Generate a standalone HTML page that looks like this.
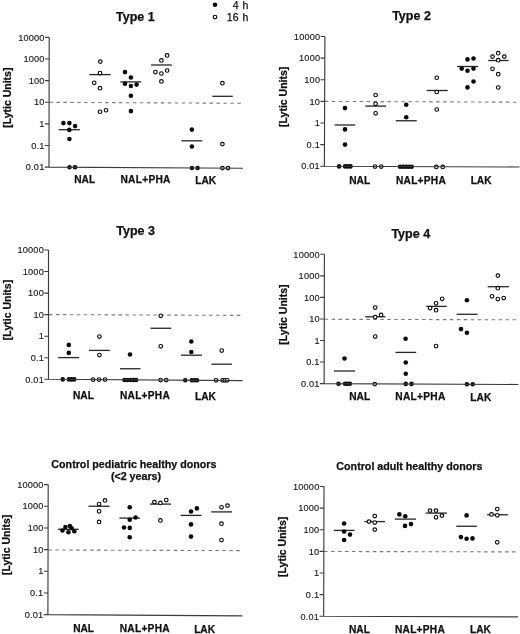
<!DOCTYPE html>
<html><head><meta charset="utf-8"><style>
html,body{margin:0;padding:0;background:#fff;}
body{width:520px;height:634px;overflow:hidden;}
svg{display:block;filter:blur(0.3px);}
text{font-family:"Liberation Sans", sans-serif;fill:#111;stroke:#111;stroke-width:0.25px;}
.tk{font-size:9.2px;text-anchor:end;letter-spacing:0.2px;fill:#1a1a1a;stroke:#1a1a1a;stroke-width:0.15px;}
.ti{font-size:12.5px;font-weight:bold;text-anchor:middle;}
.ti2{font-size:10.7px;font-weight:bold;text-anchor:middle;}
.xl{font-size:10.2px;font-weight:bold;text-anchor:middle;}
.yl{font-size:10.5px;font-weight:bold;text-anchor:middle;}
.xp{letter-spacing:0.25px;}
.lg{font-size:10.5px;text-anchor:end;word-spacing:1px;}
</style></head><body>
<svg width="520" height="634" viewBox="0 0 520 634">
<rect width="520" height="634" fill="#fff"/>
<circle cx="215" cy="4.8" r="2.3" fill="#0a0a0a"/>
<circle cx="215" cy="17" r="1.8" fill="#fff" stroke="#0a0a0a" stroke-width="1.15"/>
<text x="248.3" y="8.7" class="lg">4 h</text>
<text x="248.3" y="20.9" class="lg">16 h</text>
<line x1="49.45" y1="102.3" x2="241.5" y2="103.3" stroke="#7a7a7a" stroke-width="1.1" stroke-dasharray="3.5 3.46"/>
<text x="44.7" y="40.6" class="tk">10000</text>
<text x="44.67" y="62.22" class="tk">1000</text>
<text x="44.63" y="83.83" class="tk">100</text>
<text x="44.6" y="105.45" class="tk">10</text>
<text x="44.57" y="127.07" class="tk">1</text>
<text x="44.53" y="148.68" class="tk">0.1</text>
<text x="44.5" y="170.3" class="tk">0.01</text>
<line x1="58.6" y1="129.7" x2="79.9" y2="129.7" stroke="#262626" stroke-width="1.3"/>
<line x1="89.4" y1="74.6" x2="110.6" y2="74.6" stroke="#262626" stroke-width="1.3"/>
<line x1="120.3" y1="81.9" x2="141.2" y2="81.9" stroke="#262626" stroke-width="1.3"/>
<line x1="151.1" y1="65" x2="171.8" y2="65" stroke="#262626" stroke-width="1.3"/>
<line x1="181.4" y1="140.8" x2="202.3" y2="140.8" stroke="#262626" stroke-width="1.3"/>
<line x1="212.3" y1="96.3" x2="232.8" y2="96.3" stroke="#262626" stroke-width="1.3"/>
<circle cx="63.4" cy="123.1" r="2.3" fill="#0a0a0a"/>
<circle cx="69.4" cy="123.1" r="2.3" fill="#0a0a0a"/>
<circle cx="75.1" cy="126.1" r="2.3" fill="#0a0a0a"/>
<circle cx="69.3" cy="129.9" r="2.3" fill="#0a0a0a"/>
<circle cx="69.4" cy="139" r="2.3" fill="#0a0a0a"/>
<circle cx="69.5" cy="167.2" r="2.3" fill="#0a0a0a"/>
<circle cx="75" cy="167.2" r="2.3" fill="#0a0a0a"/>
<circle cx="125" cy="72.1" r="2.3" fill="#0a0a0a"/>
<circle cx="130.9" cy="77.5" r="2.3" fill="#0a0a0a"/>
<circle cx="125" cy="83.7" r="2.3" fill="#0a0a0a"/>
<circle cx="130.9" cy="86" r="2.3" fill="#0a0a0a"/>
<circle cx="136.6" cy="84.6" r="2.3" fill="#0a0a0a"/>
<circle cx="130.9" cy="95.8" r="2.3" fill="#0a0a0a"/>
<circle cx="130.9" cy="111.1" r="2.3" fill="#0a0a0a"/>
<circle cx="191.9" cy="129.6" r="2.3" fill="#0a0a0a"/>
<circle cx="191.9" cy="146.5" r="2.3" fill="#0a0a0a"/>
<circle cx="191.9" cy="168" r="2.3" fill="#0a0a0a"/>
<circle cx="197.6" cy="168" r="2.3" fill="#0a0a0a"/>
<circle cx="100.3" cy="61.6" r="1.8" fill="#fff" stroke="#0a0a0a" stroke-width="1.15"/>
<circle cx="100" cy="73.1" r="1.8" fill="#fff" stroke="#0a0a0a" stroke-width="1.15"/>
<circle cx="94.2" cy="82.8" r="1.8" fill="#fff" stroke="#0a0a0a" stroke-width="1.15"/>
<circle cx="100" cy="88.2" r="1.8" fill="#fff" stroke="#0a0a0a" stroke-width="1.15"/>
<circle cx="100" cy="111.75" r="1.8" fill="#fff" stroke="#0a0a0a" stroke-width="1.15"/>
<circle cx="106" cy="110.25" r="1.8" fill="#fff" stroke="#0a0a0a" stroke-width="1.15"/>
<circle cx="167.1" cy="55.4" r="1.8" fill="#fff" stroke="#0a0a0a" stroke-width="1.15"/>
<circle cx="161.4" cy="60.4" r="1.8" fill="#fff" stroke="#0a0a0a" stroke-width="1.15"/>
<circle cx="155.4" cy="72.1" r="1.8" fill="#fff" stroke="#0a0a0a" stroke-width="1.15"/>
<circle cx="161.4" cy="73.5" r="1.8" fill="#fff" stroke="#0a0a0a" stroke-width="1.15"/>
<circle cx="167.1" cy="70.5" r="1.8" fill="#fff" stroke="#0a0a0a" stroke-width="1.15"/>
<circle cx="161.4" cy="81.4" r="1.8" fill="#fff" stroke="#0a0a0a" stroke-width="1.15"/>
<circle cx="222.4" cy="83.2" r="1.8" fill="#fff" stroke="#0a0a0a" stroke-width="1.15"/>
<circle cx="222.4" cy="144.1" r="1.8" fill="#fff" stroke="#0a0a0a" stroke-width="1.15"/>
<circle cx="222.4" cy="168.1" r="1.8" fill="#fff" stroke="#0a0a0a" stroke-width="1.15"/>
<circle cx="228" cy="168.1" r="1.8" fill="#fff" stroke="#0a0a0a" stroke-width="1.15"/>
<path d="M49.2 37.4L49 167.1L243 168.3" fill="none" stroke="#3c3c3c" stroke-width="1.15"/>
<path d="M45 37.4H49.2M44.97 59.02H49.17M44.93 80.63H49.13M44.9 102.25H49.1M44.87 123.87H49.07M44.83 145.48H49.03M44.8 167.1H49" stroke="#3c3c3c" stroke-width="1.1"/>
<text x="135.4" y="21.1" class="ti">Type 1</text>
<text transform="translate(11.2 97.7) rotate(-90)" x="0" y="0" class="yl">[Lytic Units]</text>
<text x="84.7" y="182.9" class="xl">NAL</text>
<text x="145.6" y="182.9" class="xl xp">NAL+PHA</text>
<text x="205.75" y="183.6" class="xl">LAK</text>
<line x1="324.85" y1="101.4" x2="517" y2="102.2" stroke="#7a7a7a" stroke-width="1.1" stroke-dasharray="3.5 3.46"/>
<text x="320.4" y="39.7" class="tk">10000</text>
<text x="320.32" y="61.32" class="tk">1000</text>
<text x="320.23" y="82.93" class="tk">100</text>
<text x="320.15" y="104.55" class="tk">10</text>
<text x="320.07" y="126.17" class="tk">1</text>
<text x="319.98" y="147.78" class="tk">0.1</text>
<text x="319.9" y="169.4" class="tk">0.01</text>
<line x1="334.6" y1="125" x2="355.3" y2="125" stroke="#262626" stroke-width="1.3"/>
<line x1="365.3" y1="106.1" x2="386" y2="106.1" stroke="#262626" stroke-width="1.3"/>
<line x1="395.75" y1="120.75" x2="416.75" y2="120.75" stroke="#262626" stroke-width="1.3"/>
<line x1="426.75" y1="90.5" x2="447.75" y2="90.5" stroke="#262626" stroke-width="1.3"/>
<line x1="457.1" y1="66.5" x2="478" y2="66.5" stroke="#262626" stroke-width="1.3"/>
<line x1="488.2" y1="60.5" x2="508.6" y2="60.5" stroke="#262626" stroke-width="1.3"/>
<circle cx="345" cy="108.1" r="2.3" fill="#0a0a0a"/>
<circle cx="345" cy="129.4" r="2.3" fill="#0a0a0a"/>
<circle cx="345" cy="144.6" r="2.3" fill="#0a0a0a"/>
<circle cx="339.1" cy="166.4" r="2.3" fill="#0a0a0a"/>
<circle cx="345.1" cy="166.4" r="2.3" fill="#0a0a0a"/>
<circle cx="347.8" cy="166.4" r="2.3" fill="#0a0a0a"/>
<circle cx="350.5" cy="166.4" r="2.3" fill="#0a0a0a"/>
<circle cx="406.25" cy="104.75" r="2.3" fill="#0a0a0a"/>
<circle cx="406.25" cy="117.25" r="2.3" fill="#0a0a0a"/>
<circle cx="400.1" cy="166.8" r="2.3" fill="#0a0a0a"/>
<circle cx="403" cy="166.8" r="2.3" fill="#0a0a0a"/>
<circle cx="405.9" cy="166.8" r="2.3" fill="#0a0a0a"/>
<circle cx="408.8" cy="166.8" r="2.3" fill="#0a0a0a"/>
<circle cx="411.7" cy="166.8" r="2.3" fill="#0a0a0a"/>
<circle cx="467.5" cy="59.4" r="2.3" fill="#0a0a0a"/>
<circle cx="473.5" cy="58.5" r="2.3" fill="#0a0a0a"/>
<circle cx="461.7" cy="68.6" r="2.3" fill="#0a0a0a"/>
<circle cx="467.5" cy="70.8" r="2.3" fill="#0a0a0a"/>
<circle cx="473.5" cy="68.6" r="2.3" fill="#0a0a0a"/>
<circle cx="473.5" cy="81.5" r="2.3" fill="#0a0a0a"/>
<circle cx="467.5" cy="87.4" r="2.3" fill="#0a0a0a"/>
<circle cx="375.6" cy="95" r="1.8" fill="#fff" stroke="#0a0a0a" stroke-width="1.15"/>
<circle cx="375.6" cy="103.8" r="1.8" fill="#fff" stroke="#0a0a0a" stroke-width="1.15"/>
<circle cx="375.6" cy="113.3" r="1.8" fill="#fff" stroke="#0a0a0a" stroke-width="1.15"/>
<circle cx="375" cy="166.5" r="1.8" fill="#fff" stroke="#0a0a0a" stroke-width="1.15"/>
<circle cx="381.25" cy="166.5" r="1.8" fill="#fff" stroke="#0a0a0a" stroke-width="1.15"/>
<circle cx="436.75" cy="77.75" r="1.8" fill="#fff" stroke="#0a0a0a" stroke-width="1.15"/>
<circle cx="436.75" cy="92" r="1.8" fill="#fff" stroke="#0a0a0a" stroke-width="1.15"/>
<circle cx="436.75" cy="109.5" r="1.8" fill="#fff" stroke="#0a0a0a" stroke-width="1.15"/>
<circle cx="436.25" cy="166.9" r="1.8" fill="#fff" stroke="#0a0a0a" stroke-width="1.15"/>
<circle cx="442.75" cy="166.9" r="1.8" fill="#fff" stroke="#0a0a0a" stroke-width="1.15"/>
<circle cx="498.2" cy="53.2" r="1.8" fill="#fff" stroke="#0a0a0a" stroke-width="1.15"/>
<circle cx="492.5" cy="56.6" r="1.8" fill="#fff" stroke="#0a0a0a" stroke-width="1.15"/>
<circle cx="504.3" cy="56.6" r="1.8" fill="#fff" stroke="#0a0a0a" stroke-width="1.15"/>
<circle cx="498.2" cy="60.2" r="1.8" fill="#fff" stroke="#0a0a0a" stroke-width="1.15"/>
<circle cx="492.5" cy="68.8" r="1.8" fill="#fff" stroke="#0a0a0a" stroke-width="1.15"/>
<circle cx="498.2" cy="74.2" r="1.8" fill="#fff" stroke="#0a0a0a" stroke-width="1.15"/>
<circle cx="498.2" cy="87.5" r="1.8" fill="#fff" stroke="#0a0a0a" stroke-width="1.15"/>
<path d="M324.9 36.5L324.4 166.2L519.5 167" fill="none" stroke="#3c3c3c" stroke-width="1.15"/>
<path d="M320.7 36.5H324.9M320.62 58.12H324.82M320.53 79.73H324.73M320.45 101.35H324.65M320.37 122.97H324.57M320.28 144.58H324.48M320.2 166.2H324.4" stroke="#3c3c3c" stroke-width="1.1"/>
<text x="411.5" y="20" class="ti">Type 2</text>
<text transform="translate(287.2 96.8) rotate(-90)" x="0" y="0" class="yl">[Lytic Units]</text>
<text x="359.7" y="183.75" class="xl">NAL</text>
<text x="421" y="183.75" class="xl xp">NAL+PHA</text>
<text x="481.1" y="184.4" class="xl">LAK</text>
<line x1="48.95" y1="314.6" x2="241" y2="315.4" stroke="#7a7a7a" stroke-width="1.1" stroke-dasharray="3.5 3.46"/>
<text x="44" y="253.2" class="tk">10000</text>
<text x="44" y="274.75" class="tk">1000</text>
<text x="44" y="296.3" class="tk">100</text>
<text x="44" y="317.85" class="tk">10</text>
<text x="44" y="339.4" class="tk">1</text>
<text x="44" y="360.95" class="tk">0.1</text>
<text x="44" y="382.5" class="tk">0.01</text>
<line x1="58.2" y1="357.6" x2="79.2" y2="357.6" stroke="#262626" stroke-width="1.3"/>
<line x1="89" y1="350.4" x2="109.8" y2="350.4" stroke="#262626" stroke-width="1.3"/>
<line x1="120" y1="368.75" x2="140.5" y2="368.75" stroke="#262626" stroke-width="1.3"/>
<line x1="150.5" y1="328.25" x2="171.25" y2="328.25" stroke="#262626" stroke-width="1.3"/>
<line x1="181" y1="355.2" x2="201.9" y2="355.2" stroke="#262626" stroke-width="1.3"/>
<line x1="211.5" y1="364.2" x2="232" y2="364.2" stroke="#262626" stroke-width="1.3"/>
<circle cx="68.8" cy="344.9" r="2.3" fill="#0a0a0a"/>
<circle cx="68.8" cy="352.9" r="2.3" fill="#0a0a0a"/>
<circle cx="62.75" cy="379.4" r="2.3" fill="#0a0a0a"/>
<circle cx="68.9" cy="379.4" r="2.3" fill="#0a0a0a"/>
<circle cx="71.6" cy="379.4" r="2.3" fill="#0a0a0a"/>
<circle cx="74.25" cy="379.4" r="2.3" fill="#0a0a0a"/>
<circle cx="130" cy="354.5" r="2.3" fill="#0a0a0a"/>
<circle cx="124.5" cy="380" r="2.3" fill="#0a0a0a"/>
<circle cx="127.4" cy="380" r="2.3" fill="#0a0a0a"/>
<circle cx="130.3" cy="380" r="2.3" fill="#0a0a0a"/>
<circle cx="133.2" cy="380" r="2.3" fill="#0a0a0a"/>
<circle cx="136.1" cy="380" r="2.3" fill="#0a0a0a"/>
<circle cx="191.3" cy="341.5" r="2.3" fill="#0a0a0a"/>
<circle cx="191.3" cy="352" r="2.3" fill="#0a0a0a"/>
<circle cx="185.25" cy="380.25" r="2.3" fill="#0a0a0a"/>
<circle cx="191.75" cy="380.25" r="2.3" fill="#0a0a0a"/>
<circle cx="194.4" cy="380.25" r="2.3" fill="#0a0a0a"/>
<circle cx="197" cy="380.25" r="2.3" fill="#0a0a0a"/>
<circle cx="99.4" cy="336.5" r="1.8" fill="#fff" stroke="#0a0a0a" stroke-width="1.15"/>
<circle cx="99.4" cy="355" r="1.8" fill="#fff" stroke="#0a0a0a" stroke-width="1.15"/>
<circle cx="93.1" cy="379.5" r="1.8" fill="#fff" stroke="#0a0a0a" stroke-width="1.15"/>
<circle cx="99" cy="379.5" r="1.8" fill="#fff" stroke="#0a0a0a" stroke-width="1.15"/>
<circle cx="105" cy="379.5" r="1.8" fill="#fff" stroke="#0a0a0a" stroke-width="1.15"/>
<circle cx="160.75" cy="315.75" r="1.8" fill="#fff" stroke="#0a0a0a" stroke-width="1.15"/>
<circle cx="160.75" cy="346.25" r="1.8" fill="#fff" stroke="#0a0a0a" stroke-width="1.15"/>
<circle cx="160.6" cy="380" r="1.8" fill="#fff" stroke="#0a0a0a" stroke-width="1.15"/>
<circle cx="166.25" cy="380" r="1.8" fill="#fff" stroke="#0a0a0a" stroke-width="1.15"/>
<circle cx="221.7" cy="350.5" r="1.8" fill="#fff" stroke="#0a0a0a" stroke-width="1.15"/>
<circle cx="216" cy="380.3" r="1.8" fill="#fff" stroke="#0a0a0a" stroke-width="1.15"/>
<circle cx="222.6" cy="380.3" r="1.8" fill="#fff" stroke="#0a0a0a" stroke-width="1.15"/>
<circle cx="224.9" cy="380.3" r="1.8" fill="#fff" stroke="#0a0a0a" stroke-width="1.15"/>
<circle cx="227.2" cy="380.3" r="1.8" fill="#fff" stroke="#0a0a0a" stroke-width="1.15"/>
<path d="M48.5 250L48.5 379.3L242.6 380.6" fill="none" stroke="#3c3c3c" stroke-width="1.15"/>
<path d="M44.3 250H48.5M44.3 271.55H48.5M44.3 293.1H48.5M44.3 314.65H48.5M44.3 336.2H48.5M44.3 357.75H48.5M44.3 379.3H48.5" stroke="#3c3c3c" stroke-width="1.1"/>
<text x="135.6" y="235" class="ti">Type 3</text>
<text transform="translate(11 310) rotate(-90)" x="0" y="0" class="yl">[Lytic Units]</text>
<text x="83.4" y="399.2" class="xl">NAL</text>
<text x="145" y="399.2" class="xl xp">NAL+PHA</text>
<text x="205.45" y="400.4" class="xl">LAK</text>
<line x1="324.6" y1="319.3" x2="517.3" y2="319.8" stroke="#7a7a7a" stroke-width="1.1" stroke-dasharray="3.5 3.46"/>
<text x="319.9" y="257.5" class="tk">10000</text>
<text x="319.86" y="279.05" class="tk">1000</text>
<text x="319.82" y="300.6" class="tk">100</text>
<text x="319.77" y="322.15" class="tk">10</text>
<text x="319.73" y="343.7" class="tk">1</text>
<text x="319.69" y="365.25" class="tk">0.1</text>
<text x="319.65" y="386.8" class="tk">0.01</text>
<line x1="334" y1="371" x2="355" y2="371" stroke="#262626" stroke-width="1.3"/>
<line x1="365.2" y1="316.8" x2="385.4" y2="316.8" stroke="#262626" stroke-width="1.3"/>
<line x1="395.5" y1="352.4" x2="416.2" y2="352.4" stroke="#262626" stroke-width="1.3"/>
<line x1="426.3" y1="306.4" x2="446.7" y2="306.4" stroke="#262626" stroke-width="1.3"/>
<line x1="456.6" y1="314.3" x2="477.5" y2="314.3" stroke="#262626" stroke-width="1.3"/>
<line x1="487.7" y1="286.7" x2="508.8" y2="286.7" stroke="#262626" stroke-width="1.3"/>
<circle cx="344.5" cy="358.5" r="2.3" fill="#0a0a0a"/>
<circle cx="338.5" cy="383.75" r="2.3" fill="#0a0a0a"/>
<circle cx="345.1" cy="383.75" r="2.3" fill="#0a0a0a"/>
<circle cx="347.5" cy="383.75" r="2.3" fill="#0a0a0a"/>
<circle cx="349.9" cy="383.75" r="2.3" fill="#0a0a0a"/>
<circle cx="405.6" cy="338.7" r="2.3" fill="#0a0a0a"/>
<circle cx="405.75" cy="362.5" r="2.3" fill="#0a0a0a"/>
<circle cx="405.75" cy="373.75" r="2.3" fill="#0a0a0a"/>
<circle cx="405.75" cy="383.9" r="2.3" fill="#0a0a0a"/>
<circle cx="411.5" cy="383.9" r="2.3" fill="#0a0a0a"/>
<circle cx="466.9" cy="300.2" r="2.3" fill="#0a0a0a"/>
<circle cx="461" cy="329.1" r="2.3" fill="#0a0a0a"/>
<circle cx="466.9" cy="332.8" r="2.3" fill="#0a0a0a"/>
<circle cx="466.9" cy="384.3" r="2.3" fill="#0a0a0a"/>
<circle cx="472.7" cy="384.3" r="2.3" fill="#0a0a0a"/>
<circle cx="375.2" cy="307.5" r="1.8" fill="#fff" stroke="#0a0a0a" stroke-width="1.15"/>
<circle cx="375.2" cy="317.1" r="1.8" fill="#fff" stroke="#0a0a0a" stroke-width="1.15"/>
<circle cx="381.1" cy="314.9" r="1.8" fill="#fff" stroke="#0a0a0a" stroke-width="1.15"/>
<circle cx="375.2" cy="336.5" r="1.8" fill="#fff" stroke="#0a0a0a" stroke-width="1.15"/>
<circle cx="374.75" cy="384" r="1.8" fill="#fff" stroke="#0a0a0a" stroke-width="1.15"/>
<circle cx="442.2" cy="298.8" r="1.8" fill="#fff" stroke="#0a0a0a" stroke-width="1.15"/>
<circle cx="436.1" cy="303.3" r="1.8" fill="#fff" stroke="#0a0a0a" stroke-width="1.15"/>
<circle cx="430.1" cy="308" r="1.8" fill="#fff" stroke="#0a0a0a" stroke-width="1.15"/>
<circle cx="436.1" cy="310.2" r="1.8" fill="#fff" stroke="#0a0a0a" stroke-width="1.15"/>
<circle cx="436.1" cy="346" r="1.8" fill="#fff" stroke="#0a0a0a" stroke-width="1.15"/>
<circle cx="497.9" cy="275.6" r="1.8" fill="#fff" stroke="#0a0a0a" stroke-width="1.15"/>
<circle cx="497.8" cy="288.2" r="1.8" fill="#fff" stroke="#0a0a0a" stroke-width="1.15"/>
<circle cx="492" cy="296.3" r="1.8" fill="#fff" stroke="#0a0a0a" stroke-width="1.15"/>
<circle cx="497.8" cy="299" r="1.8" fill="#fff" stroke="#0a0a0a" stroke-width="1.15"/>
<circle cx="503.7" cy="298" r="1.8" fill="#fff" stroke="#0a0a0a" stroke-width="1.15"/>
<path d="M324.4 254.3L324.15 383.6L518.4 384.5" fill="none" stroke="#3c3c3c" stroke-width="1.15"/>
<path d="M320.2 254.3H324.4M320.16 275.85H324.36M320.12 297.4H324.32M320.07 318.95H324.27M320.03 340.5H324.23M319.99 362.05H324.19M319.95 383.6H324.15" stroke="#3c3c3c" stroke-width="1.1"/>
<text x="410.75" y="237.5" class="ti">Type 4</text>
<text transform="translate(286.8 314.55) rotate(-90)" x="0" y="0" class="yl">[Lytic Units]</text>
<text x="359.7" y="400" class="xl">NAL</text>
<text x="420.45" y="400" class="xl xp">NAL+PHA</text>
<text x="480.8" y="400.6" class="xl">LAK</text>
<line x1="48.35" y1="550" x2="239.8" y2="550.6" stroke="#7a7a7a" stroke-width="1.1" stroke-dasharray="3.5 3.46"/>
<text x="43.7" y="487.8" class="tk">10000</text>
<text x="43.65" y="509.47" class="tk">1000</text>
<text x="43.6" y="531.13" class="tk">100</text>
<text x="43.55" y="552.8" class="tk">10</text>
<text x="43.5" y="574.47" class="tk">1</text>
<text x="43.45" y="596.13" class="tk">0.1</text>
<text x="43.4" y="617.8" class="tk">0.01</text>
<line x1="57.9" y1="529.3" x2="78.8" y2="529.3" stroke="#262626" stroke-width="1.3"/>
<line x1="88.5" y1="506.25" x2="109.6" y2="506.25" stroke="#262626" stroke-width="1.3"/>
<line x1="119.4" y1="518.1" x2="140" y2="518.1" stroke="#262626" stroke-width="1.3"/>
<line x1="150" y1="504.1" x2="171" y2="504.1" stroke="#262626" stroke-width="1.3"/>
<line x1="180.6" y1="515.4" x2="201.5" y2="515.4" stroke="#262626" stroke-width="1.3"/>
<line x1="211.2" y1="511.9" x2="232" y2="511.9" stroke="#262626" stroke-width="1.3"/>
<circle cx="62.5" cy="530.5" r="2.3" fill="#0a0a0a"/>
<circle cx="65.4" cy="527.1" r="2.3" fill="#0a0a0a"/>
<circle cx="68.4" cy="532.3" r="2.3" fill="#0a0a0a"/>
<circle cx="69.9" cy="526" r="2.3" fill="#0a0a0a"/>
<circle cx="71.7" cy="528.3" r="2.3" fill="#0a0a0a"/>
<circle cx="74.3" cy="531.3" r="2.3" fill="#0a0a0a"/>
<circle cx="129.75" cy="507.25" r="2.3" fill="#0a0a0a"/>
<circle cx="135.6" cy="517.5" r="2.3" fill="#0a0a0a"/>
<circle cx="129.75" cy="519.75" r="2.3" fill="#0a0a0a"/>
<circle cx="124" cy="527.5" r="2.3" fill="#0a0a0a"/>
<circle cx="129.75" cy="527.9" r="2.3" fill="#0a0a0a"/>
<circle cx="129.75" cy="537.25" r="2.3" fill="#0a0a0a"/>
<circle cx="196.9" cy="508.4" r="2.3" fill="#0a0a0a"/>
<circle cx="191" cy="511.5" r="2.3" fill="#0a0a0a"/>
<circle cx="191" cy="524.4" r="2.3" fill="#0a0a0a"/>
<circle cx="191" cy="536.6" r="2.3" fill="#0a0a0a"/>
<circle cx="105" cy="500.4" r="1.8" fill="#fff" stroke="#0a0a0a" stroke-width="1.15"/>
<circle cx="99.1" cy="504" r="1.8" fill="#fff" stroke="#0a0a0a" stroke-width="1.15"/>
<circle cx="99.1" cy="511.25" r="1.8" fill="#fff" stroke="#0a0a0a" stroke-width="1.15"/>
<circle cx="99.1" cy="521.9" r="1.8" fill="#fff" stroke="#0a0a0a" stroke-width="1.15"/>
<circle cx="154.4" cy="502.1" r="1.8" fill="#fff" stroke="#0a0a0a" stroke-width="1.15"/>
<circle cx="160.4" cy="502.9" r="1.8" fill="#fff" stroke="#0a0a0a" stroke-width="1.15"/>
<circle cx="166.25" cy="500" r="1.8" fill="#fff" stroke="#0a0a0a" stroke-width="1.15"/>
<circle cx="160.4" cy="520.4" r="1.8" fill="#fff" stroke="#0a0a0a" stroke-width="1.15"/>
<circle cx="221.5" cy="507.3" r="1.8" fill="#fff" stroke="#0a0a0a" stroke-width="1.15"/>
<circle cx="227.5" cy="505.6" r="1.8" fill="#fff" stroke="#0a0a0a" stroke-width="1.15"/>
<circle cx="221.5" cy="523.7" r="1.8" fill="#fff" stroke="#0a0a0a" stroke-width="1.15"/>
<circle cx="221.5" cy="540" r="1.8" fill="#fff" stroke="#0a0a0a" stroke-width="1.15"/>
<path d="M48.2 484.6L47.9 614.6L242.3 615.8" fill="none" stroke="#3c3c3c" stroke-width="1.15"/>
<path d="M44 484.6H48.2M43.95 506.27H48.15M43.9 527.93H48.1M43.85 549.6H48.05M43.8 571.27H48M43.75 592.93H47.95M43.7 614.6H47.9" stroke="#3c3c3c" stroke-width="1.1"/>
<text x="133.9" y="467.5" class="ti2">Control pediatric healthy donors</text>
<text x="136" y="480.4" class="ti2">(&lt;2 years)</text>
<text transform="translate(10.2 544.9) rotate(-90)" x="0" y="0" class="yl">[Lytic Units]</text>
<text x="83.6" y="631.6" class="xl">NAL</text>
<text x="144.8" y="632.2" class="xl xp">NAL+PHA</text>
<text x="204.6" y="632.6" class="xl">LAK</text>
<line x1="324.1" y1="551.5" x2="516.2" y2="551.9" stroke="#7a7a7a" stroke-width="1.1" stroke-dasharray="3.5 3.46"/>
<text x="319.5" y="489.7" class="tk">10000</text>
<text x="319.44" y="511.33" class="tk">1000</text>
<text x="319.38" y="532.97" class="tk">100</text>
<text x="319.32" y="554.6" class="tk">10</text>
<text x="319.27" y="576.23" class="tk">1</text>
<text x="319.21" y="597.87" class="tk">0.1</text>
<text x="319.15" y="619.5" class="tk">0.01</text>
<line x1="333.75" y1="530.4" x2="354.6" y2="530.4" stroke="#262626" stroke-width="1.3"/>
<line x1="364.4" y1="521.6" x2="385" y2="521.6" stroke="#262626" stroke-width="1.3"/>
<line x1="394.75" y1="519.1" x2="415.9" y2="519.1" stroke="#262626" stroke-width="1.3"/>
<line x1="425.6" y1="513.1" x2="446.9" y2="513.1" stroke="#262626" stroke-width="1.3"/>
<line x1="456.25" y1="526.25" x2="476.9" y2="526.25" stroke="#262626" stroke-width="1.3"/>
<line x1="487.1" y1="514.75" x2="507.9" y2="514.75" stroke="#262626" stroke-width="1.3"/>
<circle cx="344.1" cy="523.5" r="2.3" fill="#0a0a0a"/>
<circle cx="344.1" cy="531.5" r="2.3" fill="#0a0a0a"/>
<circle cx="350" cy="534.6" r="2.3" fill="#0a0a0a"/>
<circle cx="344.1" cy="540" r="2.3" fill="#0a0a0a"/>
<circle cx="399.4" cy="514.4" r="2.3" fill="#0a0a0a"/>
<circle cx="405.25" cy="516.25" r="2.3" fill="#0a0a0a"/>
<circle cx="405" cy="525.9" r="2.3" fill="#0a0a0a"/>
<circle cx="411" cy="524.1" r="2.3" fill="#0a0a0a"/>
<circle cx="466.6" cy="515.4" r="2.3" fill="#0a0a0a"/>
<circle cx="460.9" cy="537.1" r="2.3" fill="#0a0a0a"/>
<circle cx="466.6" cy="538.75" r="2.3" fill="#0a0a0a"/>
<circle cx="472.5" cy="538.4" r="2.3" fill="#0a0a0a"/>
<circle cx="374.75" cy="516" r="1.8" fill="#fff" stroke="#0a0a0a" stroke-width="1.15"/>
<circle cx="369" cy="521.6" r="1.8" fill="#fff" stroke="#0a0a0a" stroke-width="1.15"/>
<circle cx="374.75" cy="522.5" r="1.8" fill="#fff" stroke="#0a0a0a" stroke-width="1.15"/>
<circle cx="374.75" cy="529.6" r="1.8" fill="#fff" stroke="#0a0a0a" stroke-width="1.15"/>
<circle cx="430" cy="510.6" r="1.8" fill="#fff" stroke="#0a0a0a" stroke-width="1.15"/>
<circle cx="436" cy="510.6" r="1.8" fill="#fff" stroke="#0a0a0a" stroke-width="1.15"/>
<circle cx="436" cy="517.25" r="1.8" fill="#fff" stroke="#0a0a0a" stroke-width="1.15"/>
<circle cx="441.9" cy="515.6" r="1.8" fill="#fff" stroke="#0a0a0a" stroke-width="1.15"/>
<circle cx="497.25" cy="509" r="1.8" fill="#fff" stroke="#0a0a0a" stroke-width="1.15"/>
<circle cx="491.5" cy="514.4" r="1.8" fill="#fff" stroke="#0a0a0a" stroke-width="1.15"/>
<circle cx="497.25" cy="515.25" r="1.8" fill="#fff" stroke="#0a0a0a" stroke-width="1.15"/>
<circle cx="497.25" cy="542.25" r="1.8" fill="#fff" stroke="#0a0a0a" stroke-width="1.15"/>
<path d="M324 486.5L323.65 616.3L518 616.9" fill="none" stroke="#3c3c3c" stroke-width="1.15"/>
<path d="M319.8 486.5H324M319.74 508.13H323.94M319.68 529.77H323.88M319.62 551.4H323.82M319.57 573.03H323.77M319.51 594.67H323.71M319.45 616.3H323.65" stroke="#3c3c3c" stroke-width="1.1"/>
<text x="409.4" y="470.3" class="ti2">Control adult healthy donors</text>
<text transform="translate(286.1 546.8) rotate(-90)" x="0" y="0" class="yl">[Lytic Units]</text>
<text x="359.4" y="632.5" class="xl">NAL</text>
<text x="420" y="632.8" class="xl xp">NAL+PHA</text>
<text x="480.5" y="633" class="xl">LAK</text>
</svg>
</body></html>
